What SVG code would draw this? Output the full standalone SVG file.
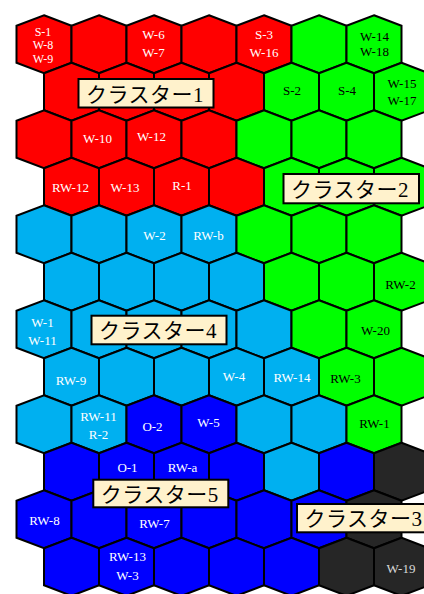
<svg xmlns="http://www.w3.org/2000/svg" xmlns:xlink="http://www.w3.org/1999/xlink" width="424" height="594" viewBox="0 0 424 594">
<style>
.h{stroke:#000;stroke-width:2;stroke-linejoin:miter}
.r{fill:#FF0000}.g{fill:#00FF00}.l{fill:#00B0F0}.b{fill:#0000FF}.d{fill:#262626}
.t{font-family:"Liberation Serif","Times New Roman",serif;font-size:13px;text-anchor:middle;fill:#fff}
.tk{fill:#000}
.tg{fill:#d9d9d9}
.box{fill:#FFF2CC;stroke:#000;stroke-width:2}
.bt{font-family:"Liberation Serif","Noto Sans CJK JP",serif;font-size:21px;fill:#000}
</style>
<defs>
<polygon id="hex" points="0,-29 27.5,-18.5 27.5,18.5 0,29 -27.5,18.5 -27.5,-18.5"/>
</defs>
<rect width="424" height="594" fill="#fff"/>
<g id="hexes">
<g id="r0">
<use href="#hex" class="h r" x="44" y="44.3"/><use href="#hex" class="h r" x="99" y="44.3"/><use href="#hex" class="h r" x="154" y="44.3"/><use href="#hex" class="h r" x="209" y="44.3"/><use href="#hex" class="h r" x="264" y="44.3"/><use href="#hex" class="h g" x="319" y="44.3"/><use href="#hex" class="h g" x="374" y="44.3"/>
</g>
<g id="r1">
<use href="#hex" class="h r" x="71.5" y="91.8"/><use href="#hex" class="h r" x="126.5" y="91.8"/><use href="#hex" class="h r" x="181.5" y="91.8"/><use href="#hex" class="h r" x="236.5" y="91.8"/><use href="#hex" class="h g" x="291.5" y="91.8"/><use href="#hex" class="h g" x="346.5" y="91.8"/><use href="#hex" class="h g" x="401.5" y="91.8"/>
</g>
<g id="r2">
<use href="#hex" class="h r" x="44" y="139.3"/><use href="#hex" class="h r" x="99" y="139.3"/><use href="#hex" class="h r" x="154" y="139.3"/><use href="#hex" class="h r" x="209" y="139.3"/><use href="#hex" class="h g" x="264" y="139.3"/><use href="#hex" class="h g" x="319" y="139.3"/><use href="#hex" class="h g" x="374" y="139.3"/>
</g>
<g id="r3">
<use href="#hex" class="h r" x="71.5" y="186.8"/><use href="#hex" class="h r" x="126.5" y="186.8"/><use href="#hex" class="h r" x="181.5" y="186.8"/><use href="#hex" class="h r" x="236.5" y="186.8"/><use href="#hex" class="h g" x="291.5" y="186.8"/><use href="#hex" class="h g" x="346.5" y="186.8"/><use href="#hex" class="h g" x="401.5" y="186.8"/>
</g>
<g id="r4">
<use href="#hex" class="h l" x="44" y="234.3"/><use href="#hex" class="h l" x="99" y="234.3"/><use href="#hex" class="h l" x="154" y="234.3"/><use href="#hex" class="h l" x="209" y="234.3"/><use href="#hex" class="h g" x="264" y="234.3"/><use href="#hex" class="h g" x="319" y="234.3"/><use href="#hex" class="h g" x="374" y="234.3"/>
</g>
<g id="r5">
<use href="#hex" class="h l" x="71.5" y="281.8"/><use href="#hex" class="h l" x="126.5" y="281.8"/><use href="#hex" class="h l" x="181.5" y="281.8"/><use href="#hex" class="h l" x="236.5" y="281.8"/><use href="#hex" class="h g" x="291.5" y="281.8"/><use href="#hex" class="h g" x="346.5" y="281.8"/><use href="#hex" class="h g" x="401.5" y="281.8"/>
</g>
<g id="r6">
<use href="#hex" class="h l" x="44" y="329.3"/><use href="#hex" class="h l" x="99" y="329.3"/><use href="#hex" class="h l" x="154" y="329.3"/><use href="#hex" class="h l" x="209" y="329.3"/><use href="#hex" class="h l" x="264" y="329.3"/><use href="#hex" class="h g" x="319" y="329.3"/><use href="#hex" class="h g" x="374" y="329.3"/>
</g>
<g id="r7">
<use href="#hex" class="h l" x="71.5" y="376.8"/><use href="#hex" class="h l" x="126.5" y="376.8"/><use href="#hex" class="h l" x="181.5" y="376.8"/><use href="#hex" class="h l" x="236.5" y="376.8"/><use href="#hex" class="h l" x="291.5" y="376.8"/><use href="#hex" class="h g" x="346.5" y="376.8"/><use href="#hex" class="h g" x="401.5" y="376.8"/>
</g>
<g id="r8">
<use href="#hex" class="h l" x="44" y="424.3"/><use href="#hex" class="h l" x="99" y="424.3"/><use href="#hex" class="h b" x="154" y="424.3"/><use href="#hex" class="h b" x="209" y="424.3"/><use href="#hex" class="h l" x="264" y="424.3"/><use href="#hex" class="h l" x="319" y="424.3"/><use href="#hex" class="h g" x="374" y="424.3"/>
</g>
<g id="r9">
<use href="#hex" class="h b" x="71.5" y="471.8"/><use href="#hex" class="h b" x="126.5" y="471.8"/><use href="#hex" class="h b" x="181.5" y="471.8"/><use href="#hex" class="h b" x="236.5" y="471.8"/><use href="#hex" class="h l" x="291.5" y="471.8"/><use href="#hex" class="h b" x="346.5" y="471.8"/><use href="#hex" class="h d" x="401.5" y="471.8"/>
</g>
<g id="r10">
<use href="#hex" class="h b" x="44" y="519.3"/><use href="#hex" class="h b" x="99" y="519.3"/><use href="#hex" class="h b" x="154" y="519.3"/><use href="#hex" class="h b" x="209" y="519.3"/><use href="#hex" class="h b" x="264" y="519.3"/><use href="#hex" class="h b" x="319" y="519.3"/><use href="#hex" class="h d" x="374" y="519.3"/>
</g>
<g id="r11">
<use href="#hex" class="h b" x="71.5" y="566.8"/><use href="#hex" class="h b" x="126.5" y="566.8"/><use href="#hex" class="h b" x="181.5" y="566.8"/><use href="#hex" class="h b" x="236.5" y="566.8"/><use href="#hex" class="h b" x="291.5" y="566.8"/><use href="#hex" class="h d" x="346.5" y="566.8"/><use href="#hex" class="h d" x="401.5" y="566.8"/>
</g>
</g>
<g id="hex-labels">
<text class="t" style="font-size:12px" x="43" y="36">S-1</text>
<text class="t" style="font-size:12px" x="43" y="48.5">W-8</text>
<text class="t" style="font-size:12px" x="43" y="62.5">W-9</text>
<text class="t" x="153.5" y="39">W-6</text><text class="t" x="153.5" y="57">W-7</text>
<text class="t" x="264" y="39">S-3</text><text class="t" x="264" y="57">W-16</text>
<text class="t tk" x="374.5" y="40.5">W-14</text><text class="t tk" x="374.5" y="55.5">W-18</text>
<text class="t tk" x="292" y="94.5">S-2</text>
<text class="t tk" x="347" y="94.5">S-4</text>
<text class="t tk" x="402" y="88">W-15</text><text class="t tk" x="402" y="104.5">W-17</text>
<text class="t" x="97.5" y="142.8">W-10</text>
<text class="t" x="151.5" y="141.2">W-12</text>
<text class="t" x="70.5" y="192.2">RW-12</text>
<text class="t" x="125" y="192.2">W-13</text>
<text class="t" x="182" y="189.5">R-1</text>
<text class="t" x="154.5" y="240.2">W-2</text>
<text class="t" x="208.5" y="240.2">RW-b</text>
<text class="t tk" x="400.5" y="288.5">RW-2</text>
<text class="t" x="42.5" y="327.2">W-1</text><text class="t" x="42.5" y="345.2">W-11</text>
<text class="t tk" x="375.5" y="335.2">W-20</text>
<text class="t" x="71" y="384.5">RW-9</text>
<text class="t" x="234" y="380.5">W-4</text>
<text class="t" x="292" y="382.2">RW-14</text>
<text class="t tk" x="345.5" y="383.2">RW-3</text>
<text class="t" x="98.5" y="421.2">RW-11</text><text class="t" x="98.5" y="438.5">R-2</text>
<text class="t" x="152.5" y="431.2">O-2</text>
<text class="t" x="208.5" y="426.5">W-5</text>
<text class="t tk" x="374.5" y="427.8">RW-1</text>
<text class="t" x="127.5" y="471.8">O-1</text>
<text class="t" x="182.5" y="471.8">RW-a</text>
<text class="t" x="44.5" y="524.5">RW-8</text>
<text class="t" x="154.5" y="527.5">RW-7</text>
<text class="t" x="127.5" y="561.2">RW-13</text><text class="t" x="127.5" y="580.2">W-3</text>
<text class="t tg" x="401" y="572.8">W-19</text>
</g>
<g id="connectors"/>
<g id="cluster1"><rect class="box" x="78.5" y="79" width="135" height="28.5"/><text class="bt" x="86" y="101.5" textLength="117.5" lengthAdjust="spacing">クラスター1</text></g>
<g id="cluster2"><rect class="box" x="283.5" y="174" width="135.5" height="29.3"/><text class="bt" x="291" y="196.5" textLength="117.5" lengthAdjust="spacing">クラスター2</text></g>
<g id="cluster4"><rect class="box" x="91.5" y="315.7" width="135" height="28.6"/><text class="bt" x="99" y="338.2" textLength="117.5" lengthAdjust="spacing">クラスター4</text></g>
<g id="cluster5"><rect class="box" x="93.3" y="479.7" width="135" height="27.6"/><text class="bt" x="100.8" y="501.7" textLength="117.5" lengthAdjust="spacing">クラスター5</text></g>
<g id="cluster3"><rect class="box" x="297" y="504" width="135.5" height="28.3"/><text class="bt" x="304.5" y="526.3" textLength="117.5" lengthAdjust="spacing">クラスター3</text></g>
</svg>
